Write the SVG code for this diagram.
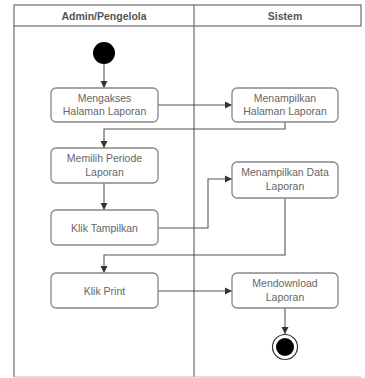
<svg xmlns="http://www.w3.org/2000/svg" width="365" height="378" viewBox="0 0 365 378">
<style>
.lane{fill:none;stroke:#777;stroke-width:1.3}
.faint{fill:none;stroke:#bbb;stroke-width:1}
.box{fill:#fff;stroke:#888;stroke-width:1.3}
.t{font-family:"Liberation Sans",Arial,sans-serif;font-size:10.5px;fill:#666;text-anchor:middle}
.h{font-family:"Liberation Sans",Arial,sans-serif;font-size:10.5px;font-weight:bold;fill:#555;text-anchor:middle}
.c{fill:none;stroke:#555;stroke-width:1.1}
</style>
<defs>
<marker id="a" markerWidth="8" markerHeight="8" refX="7" refY="4" orient="auto" markerUnits="userSpaceOnUse">
<path d="M0,0.5 L7,4 L0,7.5 z" fill="#333"/>
</marker>
</defs>
<g id="lanes">
<rect x="14" y="5" width="347" height="21" class="lane"/>
<line x1="14" y1="26" x2="14" y2="377" class="lane"/>
<line x1="194" y1="5" x2="194" y2="377" class="lane"/>
<line x1="14" y1="377" x2="361" y2="377" class="faint"/>
<text x="104" y="19.5" class="h">Admin/Pengelola</text>
<text x="285" y="19.5" class="h">Sistem</text>
</g>
<g id="connectors">
<line x1="104" y1="64" x2="104" y2="88" class="c" marker-end="url(#a)"/>
<line x1="158" y1="105" x2="232" y2="105" class="c" marker-end="url(#a)"/>
<polyline points="285,122 285,129 104,129 104,148" class="c" marker-end="url(#a)"/>
<line x1="104" y1="183" x2="104" y2="210" class="c" marker-end="url(#a)"/>
<polyline points="158,228 208,228 208,179 232,179" class="c" marker-end="url(#a)"/>
<polyline points="285,198 285,255 104,255 104,273" class="c" marker-end="url(#a)"/>
<line x1="158" y1="291" x2="232" y2="291" class="c" marker-end="url(#a)"/>
<line x1="285" y1="308" x2="285" y2="334" class="c" marker-end="url(#a)"/>
</g>
<g id="start"><circle cx="104" cy="53" r="11" fill="#000"/></g>
<g id="n1"><rect x="51" y="88" width="107" height="34" rx="5" class="box"/>
<text x="104.5" y="102" class="t">Mengakses</text><text x="104.5" y="115" class="t">Halaman Laporan</text></g>
<g id="n2"><rect x="232" y="88" width="106" height="34" rx="5" class="box"/>
<text x="285" y="102" class="t">Menampilkan</text><text x="285" y="115" class="t">Halaman Laporan</text></g>
<g id="n3"><rect x="51" y="148" width="107" height="35" rx="5" class="box"/>
<text x="104.5" y="162" class="t">Memilih Periode</text><text x="104.5" y="176" class="t">Laporan</text></g>
<g id="n4"><rect x="51" y="210" width="107" height="35" rx="5" class="box"/>
<text x="104.5" y="231.5" class="t">Klik Tampilkan</text></g>
<g id="n5"><rect x="232" y="162" width="106" height="36" rx="5" class="box"/>
<text x="285" y="176" class="t">Menampilkan Data</text><text x="285" y="190" class="t">Laporan</text></g>
<g id="n6"><rect x="51" y="273" width="107" height="35" rx="5" class="box"/>
<text x="104.5" y="294.5" class="t">Klik Print</text></g>
<g id="n7"><rect x="232" y="273" width="106" height="35" rx="5" class="box"/>
<text x="285" y="287" class="t">Mendownload</text><text x="285" y="301" class="t">Laporan</text></g>
<g id="end"><circle cx="285" cy="347" r="12.5" fill="#fff" stroke="#333" stroke-width="1.2"/><circle cx="285" cy="347" r="9" fill="#000"/></g>
</svg>
